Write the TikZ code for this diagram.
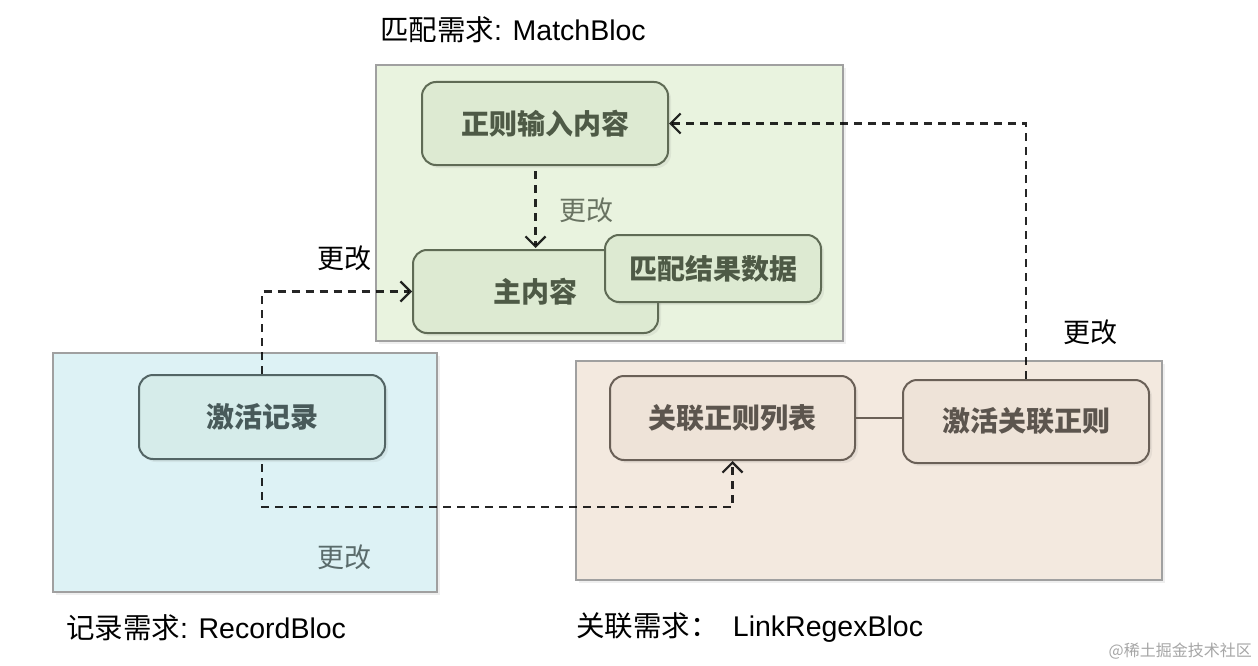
\documentclass[tikz,border=0pt]{standalone}
\usepackage{fontspec}
\setmainfont{Liberation Sans}
\newfontfamily\cjk{Noto Sans CJK SC}
\usetikzlibrary{arrows.meta,shadows,calc}
\definecolor{gfill}{HTML}{E9F3DF}
\definecolor{gnode}{HTML}{DDEAD2}
\definecolor{gline}{HTML}{5F6B55}
\definecolor{gtext}{HTML}{4E5A46}
\definecolor{bfill}{HTML}{DDF2F5}
\definecolor{bnode}{HTML}{D6ECEA}
\definecolor{bline}{HTML}{536565}
\definecolor{btext}{HTML}{485A5A}
\definecolor{tfill}{HTML}{F3E9DF}
\definecolor{tnode}{HTML}{EEE3D8}
\definecolor{tline}{HTML}{6A6057}
\definecolor{ttext}{HTML}{5C554E}
\definecolor{cborder}{HTML}{A0A0A0}
\tikzset{
  container/.style={draw=cborder, line width=1.8pt, minimum width=#1, drop shadow={shadow xshift=3pt, shadow yshift=-3pt, opacity=0.12}},
  item/.style={rounded corners=14pt, line width=2pt, inner sep=0pt,
    font=\fontsize{28}{32}\selectfont\cjk\bfseries,
    drop shadow={shadow xshift=3pt, shadow yshift=-3pt, opacity=0.12}},
  gitem/.style={item, draw=gline, fill=gnode, text=gtext},
  bitem/.style={item, draw=bline, fill=bnode, text=btext},
  titem/.style={item, draw=tline, fill=tnode, text=ttext},
  lbl/.style={font=\fontsize{27}{30}\selectfont\cjk, inner sep=0pt},
  boxcaption/.style={font=\fontsize{28.5}{32}\selectfont, inner sep=0pt, anchor=west},
  link/.style={draw=black, draw opacity=0.85, line width=2.4pt, dash pattern=on 8pt off 6pt,
    -{Straight Barb[length=10pt,width=20pt,line width=2.2pt]}},
}
\begin{document}
\begin{tikzpicture}[x=1pt,y=-1pt]
\useasboundingbox[fill=white] (0,0) rectangle (1258,666);
% containers
\node[container=467pt, fill=gfill, minimum height=276pt] (gbox) at (609.5,203) {};
\node[container=384pt, fill=bfill, minimum height=239pt] (bbox) at (245,472.5) {};
\node[container=586pt, fill=tfill, minimum height=219pt] (tbox) at (869,470.5) {};
% captions
\node[boxcaption] (capg) at (380,30) {{\cjk 匹配需求}: MatchBloc};
\node[boxcaption] (capb) at (66,628) {{\cjk 记录需求}: RecordBloc};
\node[boxcaption] (capt) at (576,628) {{\cjk 关联需求：}\hspace{0.5em}LinkRegexBloc};
% green nodes
\node[gitem, minimum width=246pt, minimum height=83pt] (zz) at (545,123.5) {正则输入内容};
\node[gitem, minimum width=245pt, minimum height=83pt] (zhu) at (535.5,291.5) {主内容};
\node[gitem, minimum width=216pt, minimum height=67pt] (pp) at (713,268.5) {匹配结果数据};
% blue node
\node[bitem, minimum width=246pt, minimum height=84pt] (jh) at (262,417) {激活记录};
% tan nodes
\node[titem, minimum width=245pt, minimum height=84pt] (gl) at (732.5,418) {关联正则列表};
\node[titem, minimum width=246pt, minimum height=83pt] (jg) at (1026,421.5) {激活关联正则};
% connectors
\draw[line width=2pt, draw=tline] (gl.east) -- (gl.east -| jg.west);
\draw[link, shorten <=5pt, shorten >=1pt] (zhu.north |- zz.south) -- (zhu.north);
\draw[link] (jh.north) |- (zhu.west);
\coordinate (low) at (0,507);
\draw[link, shorten <=4pt] (jh.south) -- (jh.south |- low) -- (gl.south |- low) -- (gl.south);
\draw[link] (jg.north) |- (zz.east);
% labels
\node[lbl, text=gtext!85] (l1) at (586,210) {更改};
\node[lbl] (l2) at (344,258) {更改};
\node[lbl] (l3) at (1090,332) {更改};
\node[lbl, text=btext!90] (l4) at (344,557) {更改};
\node[font=\fontsize{16}{18}\selectfont\cjk, text=black!35, anchor=east, inner sep=0pt] (wm) at (1252,651) {@稀土掘金技术社区};
\end{tikzpicture}
\end{document}
